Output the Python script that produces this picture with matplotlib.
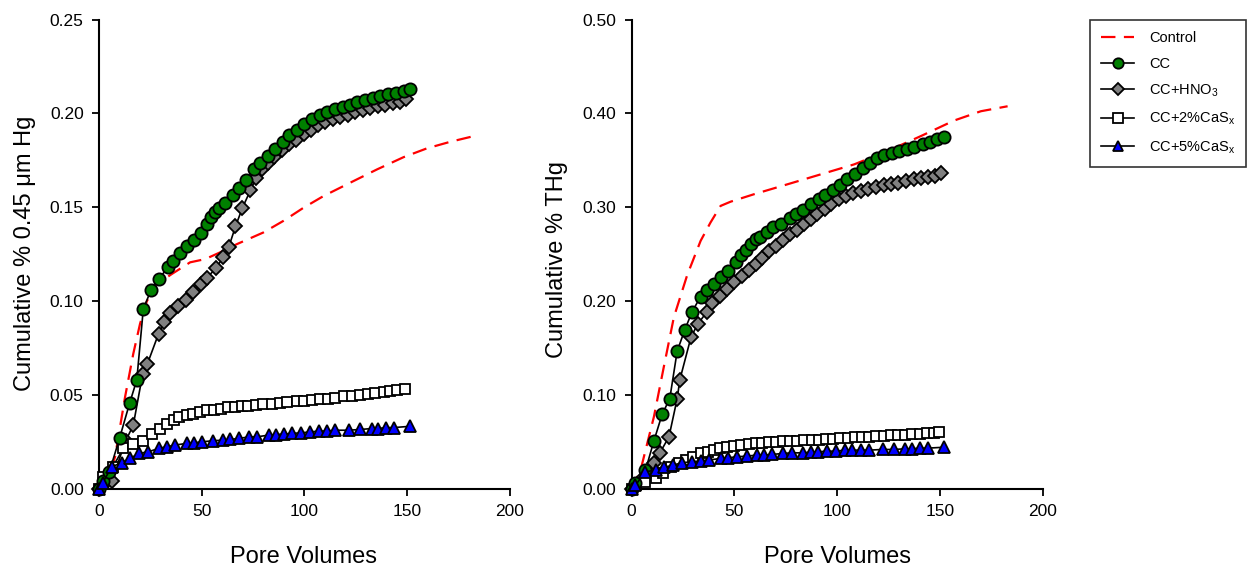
import matplotlib
matplotlib.use("Agg")
import matplotlib.pyplot as plt
from matplotlib.ticker import FormatStrFormatter

plt.rcParams['font.family'] = ['Liberation Sans', 'DejaVu Sans']

# ---------------- Left panel: 0.45 um Hg ----------------
L_ctrl_x = [0, 5, 7.8, 12.7, 16.7, 20, 23.3, 28.1, 35.5, 44.4, 51.7, 59, 67.2, 80.1, 89.9, 99.7,
            109.4, 122.4, 135.5, 148.4, 159.8, 171.2, 182.6]
L_ctrl_y = [0, 0.008, 0.017, 0.049, 0.072, 0.088, 0.1, 0.109, 0.1145, 0.1207, 0.1224, 0.126, 0.1304,
            0.1366, 0.1428, 0.1498, 0.156, 0.1631, 0.1702, 0.1767, 0.1814, 0.1849, 0.1879]

L_cc_x = [0, 2, 5, 10, 15, 18.4, 21.6, 25.4, 29.3, 33.5, 36.1, 39.4, 43.1, 46.5, 49.9, 52.8, 54.5,
          56.6, 58.7, 61.3, 65.5, 68.3, 71.6, 75.6, 78.5, 82.3, 85.9, 89.6, 92.8, 96.6, 100.1, 103.7,
          107.5, 111.1, 115.1, 118.7, 122.1, 125.7, 129.4, 133.3, 137.1, 140.8, 144.7, 148.4, 151.4]
L_cc_y = [0, 0.004, 0.009, 0.027, 0.046, 0.058, 0.096, 0.106, 0.112, 0.118, 0.1215, 0.1256, 0.1293,
          0.1325, 0.1364, 0.1413, 0.1449, 0.1476, 0.1498, 0.1525, 0.1566, 0.1605, 0.1645, 0.1702,
          0.1734, 0.1771, 0.1808, 0.1849, 0.1884, 0.1914, 0.1944, 0.1971, 0.1992, 0.2006, 0.2022,
          0.2034, 0.2047, 0.2059, 0.2072, 0.2084, 0.2093, 0.2104, 0.2111, 0.2118, 0.2128]

L_hno3_x = [0, 2.9, 6.2, 13, 16.7, 21.3, 23.6, 29, 31.7, 34.6, 38.7, 42.3, 46, 49.6, 52.5, 57.1,
            60.3, 63.3, 66.5, 69.8, 73.8, 76.6, 79.5, 82.3, 85.4, 89.3, 92.8, 96.1, 99.9, 103.4,
            106.8, 110.2, 113.8, 117.6, 121.1, 124.9, 128.6, 132.2, 135.8, 139.5, 143.3, 146.8, 149.8]
L_hno3_y = [0, 0.003, 0.0045, 0.0256, 0.034, 0.0614, 0.0667, 0.0826, 0.0888, 0.0936, 0.0973,
            0.1007, 0.105, 0.1092, 0.1126, 0.1175, 0.1233, 0.1291, 0.1398, 0.1495, 0.1591, 0.1658,
            0.1702, 0.1737, 0.1768, 0.1803, 0.1835, 0.1861, 0.1891, 0.1914, 0.1937, 0.1955, 0.1969,
            0.1981, 0.1994, 0.2005, 0.2017, 0.2029, 0.2040, 0.2047, 0.2054, 0.2061, 0.2075]

L_cas2_x = [0, 2.1, 6.7, 11.9, 16.7, 21.6, 25.7, 29.8, 33, 36.3, 39.2, 42.8, 46, 49.3, 52.5, 55.8,
            59.4, 62.8, 66.3, 69.6, 72.8, 76.4, 80.1, 84.2, 88.3, 91.6, 96.4, 99.7, 103.7, 107.8,
            111.4, 115.1, 119.2, 123.3, 127, 130.9, 134.6, 138.7, 142, 145.2, 149.3]
L_cas2_y = [0, 0.0065, 0.0118, 0.0216, 0.0242, 0.0257, 0.0292, 0.0322, 0.0345, 0.037, 0.0384,
            0.0393, 0.0402, 0.041, 0.0418, 0.0423, 0.0428, 0.0434, 0.0437, 0.0441, 0.0444, 0.0448,
            0.0451, 0.0455, 0.0458, 0.0462, 0.0467, 0.0469, 0.0472, 0.0478, 0.0481, 0.0487, 0.0494,
            0.0497, 0.0503, 0.0508, 0.0511, 0.0519, 0.0522, 0.0525, 0.0535]

L_cas5_x = [0, 1.8, 6.2, 11, 15.1, 19.7, 24, 29, 33, 37.1, 42.8, 46.3, 50.1, 55.5, 60.3, 63.9, 68,
            73.3, 77.2, 82.6, 86.3, 89.9, 94, 98.4, 102.9, 107, 111.1, 115.1, 121.6, 127.3, 133,
            135.8, 140, 143.6, 151.7]
L_cas5_y = [0, 0.0034, 0.0118, 0.014, 0.0163, 0.019, 0.0198, 0.0216, 0.0225, 0.0234, 0.0243,
            0.0246, 0.0251, 0.0257, 0.026, 0.0264, 0.0269, 0.0278, 0.0278, 0.0287, 0.029, 0.0292,
            0.0296, 0.0299, 0.0304, 0.0308, 0.0309, 0.0313, 0.0313, 0.0317, 0.0322, 0.0322, 0.0327,
            0.0327, 0.0334]

# ---------------- Right panel: THg ----------------
R_ctrl_x = [0, 4.4, 10.9, 15.7, 20.6, 27.1, 33.6, 38.4, 43.3, 48.2, 59.5, 75.8, 92, 108.2, 124.4,
            140.6, 156.8, 169.8, 182.8]
R_ctrl_y = [0, 0.02, 0.077, 0.13, 0.183, 0.228, 0.2643, 0.2838, 0.3015, 0.306, 0.3139, 0.3245,
            0.3351, 0.3457, 0.3599, 0.3758, 0.3924, 0.4023, 0.4076]

R_cc_x = [0, 1.9, 6.8, 10.9, 14.9, 18.6, 22.2, 25.9, 29.5, 33.6, 36.5, 40, 43.3, 46.9, 50.6, 53.4,
          55.5, 57.9, 60.3, 62.4, 65.7, 68.8, 72.5, 77, 79.8, 83.4, 87.1, 91.2, 93.9, 97.7, 101.2,
          104.6, 108.5, 112.3, 116, 119.2, 122.8, 126.4, 130.1, 133.8, 137.4, 141.5, 145.2, 148.4, 151.7]
R_cc_y = [0, 0.006, 0.02, 0.0513, 0.0796, 0.0962, 0.1468, 0.1695, 0.189, 0.2049, 0.212, 0.2183,
          0.2261, 0.2317, 0.242, 0.2495, 0.2548, 0.2608, 0.2661, 0.2689, 0.2742, 0.2785, 0.2827,
          0.2884, 0.2927, 0.2972, 0.3033, 0.3086, 0.3132, 0.3181, 0.3238, 0.3298, 0.3358, 0.3422,
          0.3475, 0.3521, 0.3556, 0.3581, 0.3599, 0.3617, 0.3641, 0.367, 0.3697, 0.3723, 0.375]

R_hno3_x = [0, 1.9, 6, 10.9, 13.8, 18.2, 22.2, 23.5, 29, 32.3, 36.5, 39.3, 43, 46.2, 49.8, 53.9,
            57.1, 60.3, 63.6, 66.8, 70.1, 73.6, 77, 80.3, 83.8, 87.1, 90.4, 93.9, 97.2, 100.9, 104.1,
            107.7, 111.4, 115, 118.7, 122.5, 126, 129.6, 133.3, 137.1, 140.6, 144.2, 147.4, 150.4]
R_hno3_y = [0, 0.003, 0.013, 0.028, 0.0385, 0.0555, 0.0962, 0.1164, 0.1624, 0.1759, 0.1882,
            0.1978, 0.2059, 0.213, 0.2201, 0.2272, 0.2332, 0.2396, 0.246, 0.253, 0.259, 0.2651,
            0.2714, 0.2757, 0.2821, 0.2874, 0.2927, 0.298, 0.3033, 0.3086, 0.3121, 0.3156, 0.3174,
            0.3192, 0.3217, 0.3238, 0.3252, 0.3262, 0.328, 0.3298, 0.3309, 0.3323, 0.3333, 0.3365]

R_cas2_x = [0, 2.1, 6.8, 11.7, 15.5, 19, 23, 26.5, 30, 33.6, 37.1, 40, 43, 46.2, 49.8, 53, 57.1,
            60.3, 63.6, 66.8, 70.2, 73.5, 77, 80.5, 84, 87.5, 91, 94.5, 98, 101.5, 105, 108.5, 112,
            115.5, 119, 122.5, 126, 129.5, 133, 136.5, 140, 143.5, 147, 149.5]
R_cas2_y = [0, 0.004, 0.0078, 0.0113, 0.017, 0.023, 0.0273, 0.031, 0.0343, 0.0379, 0.0396, 0.0414,
            0.0432, 0.0449, 0.0456, 0.0467, 0.0478, 0.0485, 0.0492, 0.0502, 0.0505, 0.051, 0.0513,
            0.0516, 0.0519, 0.052, 0.0524, 0.0528, 0.0534, 0.0538, 0.0545, 0.055, 0.0555, 0.0558,
            0.0562, 0.0567, 0.0572, 0.0576, 0.058, 0.0584, 0.0589, 0.0593, 0.0597, 0.0605]

R_cas5_x = [0, 1.9, 6.8, 11.7, 15.7, 20.3, 24.7, 29.5, 33.6, 37.6, 43.3, 46.9, 51.1, 56, 60.8, 64.4,
            68.5, 73.6, 78.2, 83.5, 87.1, 90.7, 94.9, 99.3, 103.6, 107.4, 111.4, 115.5, 122, 127.6,
            132.8, 136.1, 140.3, 143.9, 152]
R_cas5_y = [0, 0.004, 0.0184, 0.02, 0.023, 0.0255, 0.028, 0.029, 0.03, 0.0308, 0.0326, 0.0332,
            0.0343, 0.035, 0.0361, 0.0361, 0.0368, 0.0379, 0.0385, 0.0385, 0.0393, 0.0396, 0.0403,
            0.0403, 0.0414, 0.0414, 0.0414, 0.0414, 0.0421, 0.0421, 0.0428, 0.0428, 0.0435, 0.0435,
            0.0445]

labels = ['Control', 'CC', r'CC+HNO$_\mathregular{3}$', r'CC+2%CaS$_\mathregular{x}$',
          r'CC+5%CaS$_\mathregular{x}$']
x_ticks = [0, 50, 100, 150, 200]
L_yticks = [0.00, 0.05, 0.10, 0.15, 0.20, 0.25]
R_yticks = [0.00, 0.10, 0.20, 0.30, 0.40, 0.50]

W, H = 1249, 567
fig = plt.figure(figsize=(W / 100, H / 100), dpi=100)

def px_ax(x0, x1, ytop, ybot):
    return [x0 / W, 1 - ybot / H, (x1 - x0) / W, (ybot - ytop) / H]

axL = fig.add_axes(px_ax(99, 509.5, 19.5, 489))
axR = fig.add_axes(px_ax(631.5, 1043, 19.5, 489))

mk = dict(lw=1.2, color='black', mec='black', mew=1.3, clip_on=False)

def draw(ax, data, yticks):
    cx, cy, a_x, a_y, b_x, b_y, c_x, c_y, d_x, d_y = data
    hs = []
    hs += ax.plot(cx, cy, color='#ff0000', lw=1.6, dashes=(6.5, 3.8), label=labels[0], zorder=2)
    h_cc = ax.plot(a_x, a_y, marker='o', ms=8.8, mfc='#008000', label=labels[1], zorder=4, **mk)
    h_hn = ax.plot(b_x, b_y, marker='D', ms=7.6, mfc='#808080', label=labels[2], zorder=3, **mk)
    h_c2 = ax.plot(c_x, c_y, marker='s', ms=7.8, mfc='white', label=labels[3], zorder=3, **mk)
    h_c5 = ax.plot(d_x, d_y, marker='^', ms=8.8, mfc='#0000ff', label=labels[4], zorder=4, **mk)
    hs += h_cc + h_hn + h_c2 + h_c5
    ax.set_xlim(0, 200)
    ax.set_ylim(yticks[0], yticks[-1])
    ax.set_xticks(x_ticks)
    ax.set_yticks(yticks)
    ax.yaxis.set_major_formatter(FormatStrFormatter('%.2f'))
    for s in ['top', 'right']:
        ax.spines[s].set_visible(False)
    for s in ['left', 'bottom']:
        ax.spines[s].set_linewidth(1.5)
    ax.tick_params(direction='out', length=5, width=1.3, pad=6, labelsize=12.5, colors='black')
    return hs

handles = draw(axL, [L_ctrl_x, L_ctrl_y, L_cc_x, L_cc_y, L_hno3_x, L_hno3_y,
                     L_cas2_x, L_cas2_y, L_cas5_x, L_cas5_y], L_yticks)
draw(axR, [R_ctrl_x, R_ctrl_y, R_cc_x, R_cc_y, R_hno3_x, R_hno3_y,
           R_cas2_x, R_cas2_y, R_cas5_x, R_cas5_y], R_yticks)

# axis labels
fig.text(304 / W, 1 - 563 / H, 'Pore Volumes', fontsize=17, ha='center', va='baseline')
fig.text(837 / W, 1 - 563 / H, 'Pore Volumes', fontsize=17, ha='center', va='baseline')
fig.text(31.5 / W, 1 - 253 / H, 'Cumulative % 0.45 μm Hg', fontsize=17, rotation=90,
         rotation_mode='anchor', ha='center', va='baseline')
fig.text(563.5 / W, 1 - 260 / H, 'Cumulative % THg', fontsize=17, rotation=90,
         rotation_mode='anchor', ha='center', va='baseline')

leg = fig.legend(handles=handles, loc='upper left', bbox_to_anchor=(1090 / W, 1 - 20 / H),
                 borderaxespad=0, frameon=True, fancybox=False, fontsize=10.5, numpoints=1,
                 handlelength=2.3, handletextpad=1.0, labelspacing=0.8, borderpad=0.75,
                 markerscale=0.85)
leg.get_frame().set_edgecolor('black')
leg.get_frame().set_linewidth(1.2)

fig.savefig('out.png', dpi=100)
